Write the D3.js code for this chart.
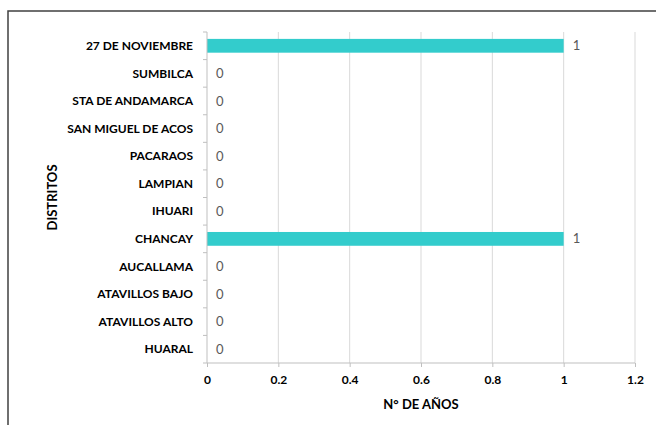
<!DOCTYPE html>
<html>
<head>
<meta charset="utf-8">
<script src="https://cdn.jsdelivr.net/npm/d3@7"></script>
<style>
  body { margin: 0; background: #fff; }
  svg text { font-family: Lato, "Open Sans", sans-serif; }
</style>
</head>
<body>
<div id="chart"></div>
<script>
const width = 656
const height = 425

// top to bottom, as in the chart
const distritos = ["27 DE NOVIEMBRE", "SUMBILCA", "STA DE ANDAMARCA", "SAN MIGUEL DE ACOS",
  "PACARAOS", "LAMPIAN", "IHUARI", "CHANCAY", "AUCALLAMA", "ATAVILLOS BAJO",
  "ATAVILLOS ALTO", "HUARAL"]
const anios = [1, 0, 0, 0, 0, 0, 0, 1, 0, 0, 0, 0]
const xTicks = [0, 0.2, 0.4, 0.6, 0.8, 1, 1.2]

const plot = { left: 207, right: 635, top: 32, bottom: 363 }

const svg = d3.select("#chart")
  .append("svg")
    .attr("width", width)
    .attr("height", height)

// outer chart frame
svg.append("rect")
  .attr("x", 8).attr("y", 11)
  .attr("width", 700).attr("height", 500)
  .attr("fill", "none")
  .attr("stroke", "#404040")
  .attr("stroke-width", 1.5)

const x = d3.scaleLinear().domain([0, 1.2]).range([plot.left, plot.right])
const y = d3.scaleBand().domain(distritos).range([plot.top, plot.bottom]).paddingInner(0.5).paddingOuter(0.25)

// gridlines
svg.append("g")
  .selectAll("line")
  .data(xTicks.slice(1))
  .enter()
  .append("line")
    .attr("x1", d => x(d)).attr("x2", d => x(d))
    .attr("y1", plot.top).attr("y2", plot.bottom)
    .attr("stroke", "#d9d9d9")
    .attr("stroke-width", 1)

// bars
svg.append("g")
  .selectAll("rect")
  .data(distritos)
  .enter()
  .append("rect")
    .attr("x", x(0))
    .attr("y", d => y(d))
    .attr("width", (d, i) => x(anios[i]) - x(0))
    .attr("height", y.bandwidth())
    .attr("fill", "#33cccc")

// value labels
svg.append("g")
  .selectAll("text")
  .data(distritos)
  .enter()
  .append("text")
    .attr("x", (d, i) => x(anios[i]) + 9)
    .attr("y", d => y(d) + y.bandwidth() / 2)
    .attr("dy", "0.35em")
    .attr("font-size", 13)
    .attr("fill", "#595959")
    .text((d, i) => anios[i])

// x axis
const xAxis = svg.append("g")
  .attr("transform", "translate(0," + plot.bottom + ")")
  .call(d3.axisBottom(x).tickValues(xTicks).tickFormat(d3.format("")).tickSize(4).tickPadding(8))
xAxis.select(".domain").attr("stroke", "#bfbfbf").attr("d", "M" + plot.left + ",0H" + plot.right)
xAxis.selectAll(".tick line").attr("stroke", "#bfbfbf")
xAxis.selectAll(".tick text")
  .attr("font-size", 12).attr("font-weight", "bold").attr("fill", "#000")

// y axis: ticks at category boundaries
const step = (plot.bottom - plot.top) / distritos.length
const yAxis = svg.append("g")
  .attr("transform", "translate(" + plot.left + ",0)")
yAxis.append("line")
  .attr("y1", plot.top).attr("y2", plot.bottom)
  .attr("stroke", "#bfbfbf")
yAxis.selectAll("line.tk")
  .data(d3.range(distritos.length + 1))
  .enter()
  .append("line")
    .attr("class", "tk")
    .attr("x1", -4).attr("x2", 0)
    .attr("y1", i => plot.top + i * step).attr("y2", i => plot.top + i * step)
    .attr("stroke", "#bfbfbf")
yAxis.selectAll("text")
  .data(distritos)
  .enter()
  .append("text")
    .attr("x", -14)
    .attr("y", d => y(d) + y.bandwidth() / 2)
    .attr("dy", "0.35em")
    .attr("text-anchor", "end")
    .attr("font-size", 12)
    .attr("font-weight", "bold")
    .attr("fill", "#000")
    .text(d => d)

// axis titles
svg.append("text")
  .attr("x", (plot.left + plot.right) / 2)
  .attr("y", 409)
  .attr("text-anchor", "middle")
  .attr("font-size", 13)
  .attr("font-weight", "bold")
  .text("N° DE AÑOS")

svg.append("text")
  .attr("transform", "translate(57," + (plot.top + plot.bottom) / 2 + ") rotate(-90)")
  .attr("text-anchor", "middle")
  .attr("font-size", 13)
  .attr("font-weight", "bold")
  .text("DISTRITOS")
</script>
</body>
</html>
